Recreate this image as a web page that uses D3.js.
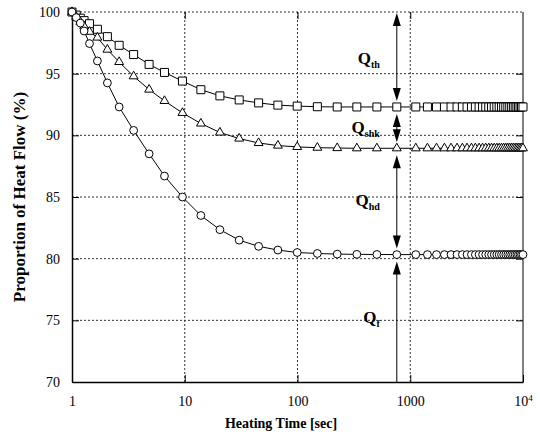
<!DOCTYPE html>
<html>
<head>
<meta charset="utf-8">
<script src="https://cdn.jsdelivr.net/npm/d3@7"></script>
<style>
body { margin: 0; background: #fff; }
svg text { font-family: "Times New Roman", "Liberation Serif", Times, serif !important; }
</style>
</head>
<body>
<div id="chart"></div>
<script>
// heating time samples (s), shared by the three curves
const times = [1, 1.09, 1.185, 1.28, 1.43, 1.68, 2.06, 2.62, 3.52, 4.83, 6.61, 9.54,
  13.9, 20.5, 30.4, 45.2, 67, 99.4, 150, 225, 336, 506, 760,
  1120, 1420, 1710, 2010, 2300, 2600, 2900, 3190, 3490, 3780, 4080, 4380, 4670, 4970,
  5260, 5560, 5860, 6150, 6450, 6740, 7040, 7340, 7630, 7930, 8220, 8520, 8820, 9110,
  9410, 9700, 10000];

// squares
const squareVals = [100, 99.75, 99.5, 99.3, 99.05, 98.6, 98.0, 97.3, 96.55, 95.75, 95.1, 94.4,
  93.7, 93.2, 92.87, 92.63, 92.45, 92.37, 92.32, 92.3, 92.3, 92.3, 92.3,
  92.3, 92.3, 92.3, 92.3, 92.3, 92.3, 92.3, 92.3, 92.3, 92.3, 92.3, 92.3, 92.3, 92.3,
  92.3, 92.3, 92.3, 92.3, 92.3, 92.3, 92.3, 92.3, 92.3, 92.3, 92.3, 92.3, 92.3, 92.3,
  92.3, 92.3, 92.3];

// triangles
const triangleVals = [100, 99.6, 99.2, 98.85, 98.4, 97.93, 96.95, 95.95, 94.79, 93.71, 92.79, 91.82,
  90.96, 90.23, 89.74, 89.38, 89.17, 89.06, 89.0, 88.97, 88.95, 88.95, 88.95,
  88.95, 88.95, 88.95, 88.95, 88.95, 88.95, 88.95, 88.95, 88.95, 88.95, 88.95, 88.95, 88.95, 88.95,
  88.95, 88.95, 88.95, 88.95, 88.95, 88.95, 88.95, 88.95, 88.95, 88.95, 88.95, 88.95, 88.95, 88.95,
  88.95, 88.95, 88.95];

// circles
const circleVals = [100, 99.55, 99.1, 98.46, 97.44, 96.03, 94.25, 92.3, 90.4, 88.5, 86.7, 85.0,
  83.5, 82.35, 81.5, 81.0, 80.7, 80.5, 80.42, 80.37, 80.35, 80.34, 80.33,
  80.33, 80.33, 80.33, 80.33, 80.33, 80.33, 80.33, 80.33, 80.33, 80.33, 80.33, 80.33, 80.33, 80.33,
  80.33, 80.33, 80.33, 80.33, 80.33, 80.33, 80.33, 80.33, 80.33, 80.33, 80.33, 80.33, 80.33, 80.33,
  80.33, 80.33, 80.33];

const xTicks = [1, 10, 100, 1000, 10000];
const yTicks = [70, 75, 80, 85, 90, 95, 100];

// heat flow components marked with arrows at one time
const arrowTime = 760;
const bandNames = ["th", "shk", "hd", "f"];
const bandHigh = [100, 92.3, 88.95, 80.33];
const bandLow = [92.3, 88.95, 80.33, 70];

var margin = {top: 12, right: 17, bottom: 53, left: 72},
    width = 540 - margin.left - margin.right,
    height = 435 - margin.top - margin.bottom;

var x = d3.scaleLog().domain([1, 10000]).range([0, width]);
var y = d3.scaleLinear().domain([70, 100]).range([height, 0]);

var svg = d3.select("#chart").append("svg")
  .attr("width", 540)
  .attr("height", 435)
  .append("g")
  .attr("transform", "translate(" + margin.left + "," + margin.top + ")");

// dotted grid
svg.append("g").selectAll("line")
  .data(yTicks.filter(d => d > 70))
  .enter().append("line")
  .attr("x1", 0).attr("x2", width)
  .attr("y1", d => y(d)).attr("y2", d => y(d))
  .attr("stroke", "#333").attr("stroke-dasharray", "2,2");

svg.append("g").selectAll("line")
  .data(xTicks.filter(d => d > 1 && d < 10000))
  .enter().append("line")
  .attr("y1", 0).attr("y2", height)
  .attr("x1", d => x(d)).attr("x2", d => x(d))
  .attr("stroke", "#333").attr("stroke-dasharray", "2,2");

// right border
svg.append("line")
  .attr("x1", width).attr("x2", width).attr("y1", 0).attr("y2", height)
  .attr("stroke", "#000").attr("stroke-width", 1);

// axes with inward ticks
var bottom = svg.append("g")
  .attr("transform", "translate(0," + height + ")")
  .call(d3.axisBottom(x).tickValues(xTicks).tickSizeInner(-7).tickSizeOuter(0)
    .tickPadding(14).tickFormat(d => d === 10000 ? "10" : d3.format("d")(d)));
bottom.selectAll("text").filter(d => d === 10000)
  .append("tspan").attr("dy", "-0.55em").attr("font-size", "9px").text("4");

var left = svg.append("g")
  .call(d3.axisLeft(y).tickValues(yTicks).tickSizeInner(-7).tickSizeOuter(0).tickPadding(12));

svg.append("g")
  .call(d3.axisTop(x).tickValues(xTicks.slice(1, 4)).tickSizeInner(-7).tickSizeOuter(0).tickFormat(""))
  .select(".domain").remove();
svg.append("g")
  .attr("transform", "translate(" + width + ",0)")
  .call(d3.axisRight(y).tickValues(yTicks.slice(1, 6)).tickSizeInner(-7).tickSizeOuter(0).tickFormat(""))
  .select(".domain").remove();

[bottom, left].forEach(function(g) {
  g.attr("font-family", null).attr("font-size", null);
  g.select(".domain").attr("stroke-width", 1.5);
  g.selectAll("text").attr("font-size", "14px").attr("fill", "#000");
});

// curves
var line = d3.line()
  .x(d => x(d[0]))
  .y(d => y(d[1]));

var series = [
  {vals: squareVals, shape: d3.symbolSquare, size: 64},
  {vals: triangleVals, shape: d3.symbolTriangle, size: 34},
  {vals: circleVals, shape: d3.symbolCircle, size: 48}
];

series.forEach(function(s) {
  var pts = times.map((t, i) => [t, s.vals[i]]);
  svg.append("path")
    .datum(pts)
    .attr("fill", "none")
    .attr("stroke", "#000")
    .attr("stroke-width", 1)
    .attr("d", line);
  svg.append("g").selectAll("path")
    .data(pts)
    .enter().append("path")
    .attr("d", d3.symbol().type(s.shape).size(s.size))
    .attr("transform", d => "translate(" + x(d[0]) + "," + y(d[1]) + ")")
    .attr("fill", "#fff")
    .attr("stroke", "#000")
    .attr("stroke-width", 1);
});

// arrows and Q labels
var ax = x(arrowTime);
var headLen = 13, headHalf = 4;
bandNames.forEach(function(name, i) {
  var top = bandHigh[i] === 100 ? y(100) + 1 : y(bandHigh[i]) + 7;
  var bot = bandLow[i] === 70 ? y(70) : y(bandLow[i]) - 6;
  svg.append("line")
    .attr("x1", ax).attr("x2", ax).attr("y1", top + 4).attr("y2", bandLow[i] === 70 ? bot : bot - 4)
    .attr("stroke", "#000").attr("stroke-width", 1);
  svg.append("path")
    .attr("d", "M" + ax + "," + top + "L" + (ax - headHalf) + "," + (top + headLen) +
      "L" + (ax + headHalf) + "," + (top + headLen) + "Z")
    .attr("fill", "#000");
  if (bandLow[i] !== 70) {
    svg.append("path")
      .attr("d", "M" + ax + "," + bot + "L" + (ax - headHalf) + "," + (bot - headLen) +
        "L" + (ax + headHalf) + "," + (bot - headLen) + "Z")
      .attr("fill", "#000");
  }
  var mid = (y(bandHigh[i]) + y(bandLow[i])) / 2;
  var t = svg.append("text")
    .attr("x", ax - 17)
    .attr("y", mid + 5)
    .attr("text-anchor", "end")
    .attr("font-weight", "bold")
    .attr("font-size", "17px")
    .text("Q");
  t.append("tspan")
    .attr("dy", 4)
    .attr("font-size", "10px")
    .text(name);
});

// axis titles
svg.append("text")
  .attr("x", 281 - margin.left)
  .attr("y", 428 - margin.top)
  .attr("text-anchor", "middle")
  .attr("font-weight", "bold")
  .attr("font-size", "14px")
  .text("Heating Time [sec]");

svg.append("text")
  .attr("transform", "rotate(-90)")
  .attr("x", -height / 2)
  .attr("y", 25 - margin.left)
  .attr("text-anchor", "middle")
  .attr("font-weight", "bold")
  .attr("font-size", "17px")
  .text("Proportion of Heat Flow (%)");
</script>
</body>
</html>
